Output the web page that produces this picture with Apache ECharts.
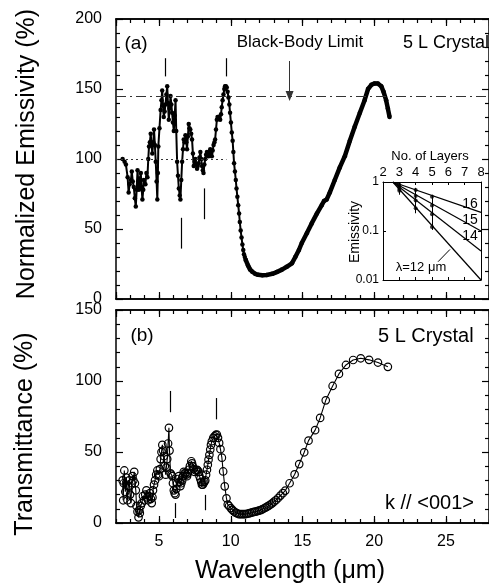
<!DOCTYPE html>
<html>
<head>
<meta charset="utf-8">
<script src="https://cdn.jsdelivr.net/npm/echarts@6/dist/echarts.min.js"></script>
<style>
  html, body { margin: 0; background: #fff; }
  #main { width: 489px; height: 586px; }
</style>
</head>
<body>
<div id="main"></div>
<script>
// (a) normalized emissivity (%), wavelength in um
var emisRough = [
  [2.46,100],[2.6,98],[2.69,96],[2.81,87],[2.88,76],[2.95,82],[3.04,85],[3.1,91],[3.17,84],[3.24,80],
  [3.31,72],[3.38,66],[3.44,78],[3.5,92],[3.55,84],[3.6,78],[3.67,86],[3.73,90],[3.78,80],[3.84,71],
  [3.9,78],[3.94,85],[4.05,82],[4.12,90],[4.19,87],[4.25,100],[4.3,109],[4.36,112],[4.42,118],[4.48,110],
  [4.53,104],[4.6,112],[4.65,121],[4.71,110],[4.77,98],[4.83,84],[4.88,71],[4.92,90],[4.95,109],[5.03,122],
  [5.11,135],[5.17,142],[5.22,149],[5.28,138],[5.33,130],[5.39,134],[5.45,139],[5.51,146],[5.57,152],[5.62,140],
  [5.68,128],[5.74,136],[5.8,145],[5.86,139],[5.91,133],[5.97,126],[6.03,120],[6.09,131],[6.15,142],[6.2,120],
  [6.26,98],[6.32,88],[6.38,79],[6.44,74],[6.49,71],[6.55,85],[6.61,98],[6.67,107],[6.72,114],[6.78,112],
  [6.84,117],[6.9,112],[6.95,107],[7.01,116],[7.07,125],[7.12,122],[7.18,121],[7.24,118],[7.3,114],[7.36,104],
  [7.42,95],[7.48,98],[7.53,100],[7.59,96],[7.65,93],[7.7,95],[7.76,97],[7.82,101],[7.88,105],[7.94,100],
  [8.0,95],[8.05,92],[8.1,90],[8.16,96],[8.22,100],[8.28,103],[8.34,105],[8.4,103],[8.45,102],[8.51,105],
  [8.57,107],[8.62,104],[8.68,102],[8.74,106],[8.8,110],[8.86,112],[8.91,114],[8.97,121],[9.03,128],[9.08,130],
  [9.14,130],[9.2,129],[9.26,128],[9.32,132],[9.37,137],[9.43,142],[9.49,146],[9.55,150],[9.6,152],[9.66,152],
  [9.72,151],[9.78,148],[9.84,144],[9.9,139],[9.95,133],[10.01,126],[10.07,119],[10.13,113],[10.18,105],[10.23,97],
  [10.29,91],[10.35,85],[10.4,79],[10.46,73],[10.52,67],[10.58,61],[10.63,55],[10.69,49],[10.75,44],[10.81,39],
  [10.87,35],[10.92,32],[10.98,30],[11.04,28]
];
var emisSmooth = [
  [11.04,28],[11.2,24],[11.35,21],[11.5,19.5],[11.7,18],[11.9,17.3],[12.2,17],[12.5,17.2],[12.9,18],[13.2,19.2],
  [13.57,21],[13.9,23],[14.26,25.5],[14.5,30],[14.75,35],[14.95,40],[15.3,47],[15.64,54],[16.0,61],[16.34,67],
  [16.5,70],[16.68,71],[16.9,76],[17.25,85],[17.6,94],[17.95,102],[18.3,113],[18.64,123],[19.0,133],[19.33,142],
  [19.57,150],[19.8,153],[20.03,154],[20.25,154],[20.49,152],[20.65,148],[20.83,142],[20.95,136],[21.07,130]
];
// (b) transmittance (%)
var transData = [
  [2.46,30],[2.5,16],[2.54,28],[2.58,37],[2.65,22],[2.72,32],[2.8,16],[2.86,26],[2.92,30],[2.98,20],
  [3.04,14],[3.1,28],[3.15,33],[3.21,30],[3.27,36],[3.32,28],[3.38,23],[3.43,12],[3.5,8],[3.57,4],
  [3.62,9],[3.66,7],[3.72,12],[3.8,14],[3.88,19],[3.96,16],[4.04,20],[4.12,23],[4.18,18],[4.24,16],
  [4.3,19],[4.37,21],[4.43,17],[4.49,14],[4.54,18],[4.58,23],[4.65,27],[4.72,30],[4.8,34],[4.88,37],
  [4.94,34],[5.0,33],[5.06,38],[5.11,45],[5.17,50],[5.23,55],[5.28,51],[5.34,47],[5.4,40],[5.46,34],
  [5.51,39],[5.57,45],[5.63,56],[5.69,67],[5.73,51],[5.8,35],[5.86,34],[5.92,33],[5.97,28],[6.03,23],
  [6.09,21],[6.15,20],[6.2,24],[6.26,28],[6.32,31],[6.38,33],[6.44,29],[6.49,26],[6.55,28],[6.61,30],
  [6.67,33],[6.72,36],[6.78,35],[6.84,35],[6.9,34],[6.95,33],[7.01,35],[7.07,37.5],[7.15,40],[7.25,43.5],
  [7.3,42],[7.35,40],[7.42,38],[7.48,36],[7.56,37],[7.65,37.5],[7.7,37],[7.76,36],[7.82,33],[7.88,31],
  [7.94,29],[7.99,27],[8.05,27],[8.1,28],[8.16,29],[8.22,30],[8.28,34],[8.34,37.5],[8.4,41],[8.45,44.6],
  [8.51,48],[8.57,51.7],[8.62,55],[8.68,57.6],[8.78,60],[8.87,61],[8.95,62],[9.03,62.3],[9.11,60],[9.19,56.4],
  [9.28,52],[9.38,46],[9.47,36.3],[9.58,25.8],[9.7,17.4],[9.79,13],[9.88,12],[10.0,10.5],[10.11,9.2],[10.22,8.2],
  [10.34,7.3],[10.45,6.8],[10.57,6.3],[10.68,6.2],[10.8,6.3],[10.92,6.2],[11.03,6.3],[11.15,6.5],[11.26,6.8],[11.38,7.1],
  [11.5,7.5],[11.62,7.8],[11.73,8],[11.85,8.3],[11.96,8.7],[12.08,9.1],[12.19,9.6],[12.3,10.2],[12.42,10.8],[12.54,11.5],
  [12.65,12.2],[12.77,13],[12.88,13.8],[13.02,15],[13.16,16.2],[13.3,17.6],[13.46,19.3],[13.63,21],[13.8,22.8],[14.1,28],
  [14.45,34.2],[14.77,41.5],[15.12,49.8],[15.42,58],[15.88,65.4],[16.23,74],[16.62,86.4],[17.1,96.5],[17.54,105],[18.03,111.3],
  [18.53,114.8],[19.06,116],[19.64,114.9],[20.26,113],[20.95,110]
];
// short vertical marker bars: [wavelength, from, to]
var emisBars = [[5.45,172,159],[9.7,172,159],[6.55,58,36],[8.15,79,57]];
var transBars = [[5.8,93,78],[8.98,88,73],[6.12,14,3.5],[8.2,19.8,9]];
var blackBody = 145;
var arrowX = 14.1, arrowTop = 170;
var dottedRef = [2, 9.7, 100];

// inset: emissivity vs number of layers
var insetLayers = [2, 8];
var fitNames = ['16', '15', '14', '12'];
var fitStart = [2.6, 1];
var fitEnd = [0.24, 0.1, 0.039, 0.01];
var insetPts = [[3,0.88],[3,0.8],[3,0.72],[3,0.66],[4,0.69],[4,0.52],[4,0.42],[4,0.29],[5,0.5],[5,0.33],[5,0.22],[5,0.12]];
var insetErr = [[3,0.55,0.95],[4,0.23,0.76],[5,0.105,0.55]];
var leader = [[6.1,0.042],[5.37,0.0236]];

var FONT = '"Liberation Sans", Arial, Helvetica, sans-serif';
var INK = '#000';

function frameX(grid, pos, minor, labels) {
  var ax = {
    type: 'value', gridIndex: grid, position: pos, min: 2, max: 28, offset: 0,
    axisLine: { show: true, onZero: false, lineStyle: { color: INK, width: 1.5 } },
    axisTick: { show: true, inside: true, length: minor ? 4 : 7, lineStyle: { color: INK, width: 1.2 } },
    axisLabel: { show: false },
    splitLine: { show: false }
  };
  if (minor) ax.interval = 1; else ax.splitNumber = 5;
  if (labels) ax.axisLabel = { show: true, showMinLabel: false, showMaxLabel: false,
    fontSize: 16, color: INK, fontFamily: FONT, margin: 11 };
  return ax;
}
function frameY(grid, pos, max, labels) {
  return {
    type: 'value', gridIndex: grid, position: pos, min: 0, max: max, interval: 50,
    axisLine: { show: true, onZero: false, lineStyle: { color: INK, width: 1.5 } },
    axisTick: { show: true, inside: true, length: 7, lineStyle: { color: INK, width: 1.2 } },
    minorTick: { show: true, splitNumber: 5, length: 4, lineStyle: { color: INK, width: 1.2 } },
    axisLabel: labels ? { fontSize: 16, color: INK, fontFamily: FONT, margin: 14 } : { show: false },
    splitLine: { show: false }
  };
}
function segs(bars) {
  return bars.map(function (b) { return [{ coord: [b[0], b[1]] }, { coord: [b[0], b[2]] }]; });
}

var chart = echarts.init(document.getElementById('main'));

var series = [
  {
    type: 'line', xAxisIndex: 0, yAxisIndex: 0, data: emisRough,
    symbol: 'circle', symbolSize: 4.5, showSymbol: true,
    itemStyle: { color: INK }, lineStyle: { color: INK, width: 2 },
    markLine: {
      silent: true, symbol: ['none', 'none'], label: { show: false },
      lineStyle: { color: INK, width: 1.2, type: 'solid' },
      data: segs(emisBars).concat([
        { yAxis: blackBody, lineStyle: { color: '#333', width: 1, type: [10, 4, 2, 4] } },
        [{ coord: [dottedRef[0], dottedRef[2]], lineStyle: { color: '#333', width: 1, type: [2, 3] } },
         { coord: [dottedRef[1], dottedRef[2]] }],
        [{ coord: [arrowX, arrowTop], symbol: 'none', lineStyle: { color: '#333', width: 1 } },
         { coord: [arrowX, blackBody], symbol: 'triangle', symbolSize: [8, 10] }]
      ])
    }
  },
  {
    type: 'line', xAxisIndex: 0, yAxisIndex: 0, data: emisSmooth,
    symbol: 'circle', symbolSize: 4.5, showSymbol: true,
    itemStyle: { color: INK }, lineStyle: { color: INK, width: 4.5 }
  },
  {
    type: 'line', xAxisIndex: 4, yAxisIndex: 2, data: transData,
    symbol: 'circle', symbolSize: 7.5, showSymbol: true,
    itemStyle: { color: 'rgba(255,255,255,0)', borderColor: INK, borderWidth: 1.2 },
    lineStyle: { color: INK, width: 1.1 },
    markLine: {
      silent: true, symbol: ['none', 'none'], label: { show: false },
      lineStyle: { color: INK, width: 1.2, type: 'solid' },
      data: segs(transBars)
    }
  }
];

fitNames.forEach(function (n, i) {
  series.push({
    type: 'line', xAxisIndex: 8, yAxisIndex: 4, showSymbol: false, silent: true,
    data: [fitStart, [insetLayers[1], fitEnd[i]]],
    lineStyle: { color: INK, width: 1.2 }
  });
});
series.push({
  type: 'scatter', xAxisIndex: 8, yAxisIndex: 4, data: insetPts,
  symbolSize: 4, itemStyle: { color: INK },
  markLine: {
    silent: true, symbol: ['none', 'none'], label: { show: false },
    lineStyle: { color: INK, width: 1, type: 'solid' },
    data: insetErr.map(function (e) { return [{ coord: [e[0], e[1]] }, { coord: [e[0], e[2]] }]; })
      .concat([[{ coord: leader[0] }, { coord: leader[1] }]])
  }
});

function txt(t, x, y, size, extra) {
  var s = { text: t, font: size + 'px ' + FONT, fill: INK, textAlign: 'center', textVerticalAlign: 'middle' };
  var o = { type: 'text', x: x, y: y, style: s, silent: true, z: 100 };
  if (extra) for (var k in extra) { if (k === 'rotation') o.rotation = extra[k]; else s[k] = extra[k]; }
  return o;
}

var insetAx = {
  axisLine: { show: true, onZero: false, lineStyle: { color: INK, width: 1 } },
  axisTick: { show: true, inside: true, length: 3, lineStyle: { color: INK } },
  splitLine: { show: false }
};

chart.setOption({
  animation: false,
  backgroundColor: '#fff',
  textStyle: { fontFamily: FONT },
  grid: [
    { left: 116, top: 19, width: 376, height: 280, containLabel: false },
    { left: 116, top: 310, width: 376, height: 213, containLabel: false },
    { left: 383, top: 182, width: 98, height: 98, containLabel: false, show: true, backgroundColor: '#fff', borderWidth: 0 }
  ],
  xAxis: [
    frameX(0, 'bottom', false, false), frameX(0, 'bottom', true, false),
    frameX(0, 'top', false, false), frameX(0, 'top', true, false),
    frameX(1, 'bottom', false, true), frameX(1, 'bottom', true, false),
    frameX(1, 'top', false, false), frameX(1, 'top', true, false),
    Object.assign({ type: 'value', gridIndex: 2, position: 'top', min: insetLayers[0], max: insetLayers[1], interval: 1,
      axisLabel: { fontSize: 13, color: INK, fontFamily: FONT, margin: 3 } }, insetAx),
    Object.assign({ type: 'value', gridIndex: 2, position: 'bottom', min: insetLayers[0], max: insetLayers[1], interval: 1,
      axisLabel: { show: false } }, insetAx)
  ],
  yAxis: [
    frameY(0, 'left', 200, true), frameY(0, 'right', 200, false),
    frameY(1, 'left', 150, true), frameY(1, 'right', 150, false),
    Object.assign({ type: 'log', logBase: 10, gridIndex: 2, position: 'left', min: 0.01, max: 1,
      axisLabel: { fontSize: 12, color: INK, fontFamily: FONT, margin: 4 } }, insetAx),
    Object.assign({ type: 'log', logBase: 10, gridIndex: 2, position: 'right', min: 0.01, max: 1,
      axisLabel: { show: false } }, insetAx)
  ],
  series: series,
  graphic: [
    txt('Normalized Emissivity (%)', 27, 154, 25, { rotation: Math.PI / 2 }),
    txt('Transmittance (%)', 25, 434, 25, { rotation: Math.PI / 2 }),
    txt('Wavelength (\u03bcm)', 290, 571, 25),
    txt('(a)', 136, 44, 19),
    txt('Black-Body Limit', 300, 42, 17),
    txt('5 L Crystal', 403, 43, 18, { textAlign: 'left' }),
    txt('(b)', 142, 336, 19),
    txt('5 L Crystal', 378, 336, 20, { textAlign: 'left' }),
    txt('k // <001>', 385, 503, 20, { textAlign: 'left' }),
    txt('No. of Layers', 430, 156, 13),
    txt('Emissivity', 355, 232, 14, { rotation: Math.PI / 2 }),
    txt('16', 470, 204, 14),
    txt('15', 470, 220, 14),
    txt('14', 470, 236, 14),
    txt('\u03bb=12 \u03bcm', 421, 267, 13)
  ]
});
</script>
</body>
</html>
